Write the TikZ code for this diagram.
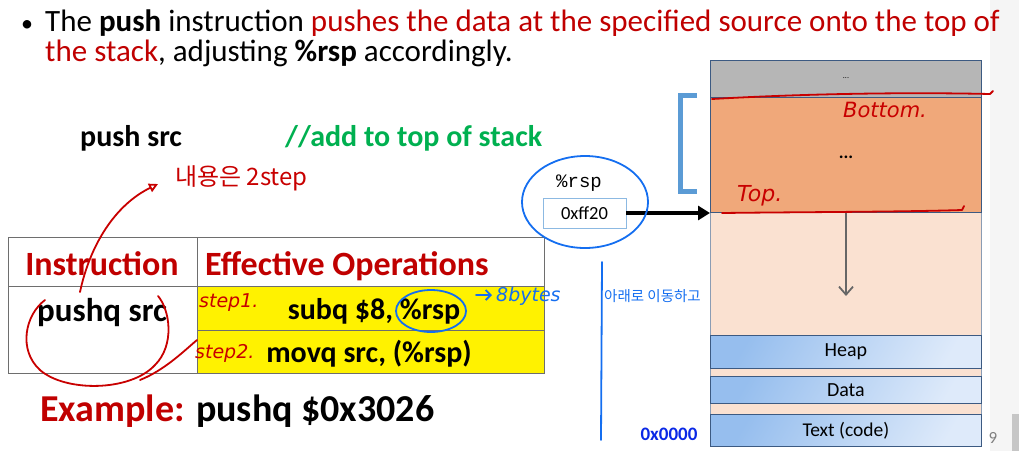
\documentclass[tikz,border=0pt]{standalone}
\usepackage{fontspec}
\setmainfont{Carlito}
\setmonofont{Liberation Mono}
\newfontfamily\kr{Noto Sans CJK KR}
\newfontfamily\hand{DejaVu Sans}
\usetikzlibrary{arrows.meta,shapes.geometric}
\definecolor{dred}{RGB}{192,0,0}
\definecolor{cgreen}{RGB}{0,176,80}
\definecolor{stackor}{RGB}{240,168,122}
\definecolor{peach}{RGB}{250,225,209}
\definecolor{topgray}{RGB}{182,182,182}
\definecolor{blueA}{RGB}{150,190,238}
\definecolor{blueB}{RGB}{222,234,250}
\definecolor{boxline}{RGB}{60,90,130}
\definecolor{penred}{RGB}{200,0,0}
\definecolor{penblue}{RGB}{20,110,240}
\definecolor{brblue}{RGB}{91,155,213}
\definecolor{addrblue}{RGB}{10,40,230}
\definecolor{tline}{RGB}{110,110,110}
\begin{document}
\begin{tikzpicture}[x=1pt,y=-1pt,
  txt/.style={inner sep=0pt},
  cellline/.style={draw=tline,line width=0.9pt},
  segbox/.style={draw=boxline,line width=0.8pt,shading=axis,left color=blueA,right color=blueB,shading angle=60},
  redpen/.style={draw=penred,line width=1.8pt,line cap=round,line join=round},
  bluepen/.style={draw=penblue,line width=1.8pt,line cap=round,line join=round},
  handred/.style={inner sep=0pt,text=penred,font=\hand\itshape\fontsize{19}{19}\selectfont},
  handblue/.style={inner sep=0pt,text=penblue,font=\hand\itshape\fontsize{19}{19}\selectfont}]
\useasboundingbox (0,0) rectangle (1019,451);
% right slide edge
\fill[gray!8] (990,0) rectangle (1019,451);
\fill[gray!45] (1012,414) rectangle (1019,451);

% bullet text
\node[txt,anchor=base] (bul) at (27,31) {\fontsize{24}{30}\selectfont •};
\node[txt,anchor=base west] (l1) at (45,31) {\fontsize{31}{34}\selectfont The \textbf{push} instruction \textcolor{dred}{pushes the data at the specified source onto the top of}};
\node[txt,anchor=base west] (l2) at (45,61) {\fontsize{31}{34}\selectfont \textcolor{dred}{the stack}, adjusting \textbf{\%rsp} accordingly.};

% push src line
\node[txt,anchor=base west] (ps) at (80,146) {\fontsize{30}{32}\selectfont\bfseries push src};
\node[txt,anchor=base west] (cm) at (285,146) {\fontsize{30}{32}\selectfont\bfseries\color{cgreen}//add to top of stack};

% table
\fill[yellow] (197,286) rectangle (544,373);
\draw[cellline] (8,237) rectangle (544,373);
\draw[cellline] (197,237) -- (197,373);
\draw[cellline] (8,286) -- (544,286);
\draw[cellline] (197,330) -- (544,330);
\node[txt,anchor=base] (hi) at (102,275) {\fontsize{34}{36}\selectfont\bfseries\color{dred}Instruction};
\node[txt,anchor=base west] (he) at (205,275) {\fontsize{34}{36}\selectfont\bfseries\color{dred}Effective Operations};
\node[txt,anchor=base] (pq) at (102,321) {\fontsize{33}{36}\selectfont\bfseries pushq src};
\node[txt,anchor=base] (op1) at (374,319) {\fontsize{30}{32}\selectfont\bfseries subq \$8, \%rsp};
\node[txt,anchor=base] (op2) at (369,362) {\fontsize{30}{32}\selectfont\bfseries movq src, (\%rsp)};

% example
\node[txt,anchor=base west] (ex) at (40,421) {\fontsize{38}{40}\selectfont\bfseries\textcolor{dred}{Example:} pushq \$0x3026};

% memory layout
\fill[peach] (710,212) rectangle (981,446);
\draw[boxline!60,line width=0.6pt] (710,212) -- (710,446) (981,212) -- (981,446);
\filldraw[fill=topgray,draw=boxline,line width=0.8pt] (710,60) rectangle (981,97);
\node[txt] (dots0) at (846,78) {\fontsize{8}{8}\selectfont ...};
\filldraw[fill=stackor,draw=boxline,line width=0.8pt] (710,97) rectangle (981,212);
\node[txt] (dots1) at (846,157) {\fontsize{18}{18}\selectfont\bfseries ...};
\coordinate (arrS) at (846,213);
\coordinate (arrE) at (846,296);
\draw[gray!80!black,line width=1.8pt,-{Straight Barb[length=8pt,width=14pt]}] (arrS) -- (arrE);
\node[segbox,minimum width=271pt,minimum height=33pt,anchor=north west,inner sep=0pt] (heap) at (710,335) {};
\node[txt] at (heap) {\fontsize{20}{20}\selectfont Heap};
\node[segbox,minimum width=271pt,minimum height=27pt,anchor=north west,inner sep=0pt] (data) at (710,376) {};
\node[txt] at (data) {\fontsize{20}{20}\selectfont Data};
\node[segbox,minimum width=271pt,minimum height=32pt,anchor=north west,inner sep=0pt] (text) at (710,414) {};
\node[txt] at (text) {\fontsize{19.5}{20}\selectfont Text (code)};
\node[txt,anchor=base] (addr) at (669,440) {\fontsize{19}{19}\selectfont\bfseries\color{addrblue}0x0000};
\node[txt,anchor=base] (pg) at (993,443) {\fontsize{17}{17}\selectfont\color{gray}9};

% rsp register
\node[txt,anchor=base] (rspl) at (579,187) {\fontsize{19}{19}\selectfont\ttfamily\%rsp};
\node[draw=brblue!70,line width=0.8pt,minimum width=83pt,minimum height=30pt,inner sep=0pt] (rspbox) at (584.5,213) {\fontsize{18.5}{18.5}\selectfont 0xff20};
\coordinate (stacktop) at (710,213);
\draw[line width=4pt,-{Triangle[length=12pt,width=14pt]}] (rspbox.east) -- (stacktop);

% blue bracket
\draw[brblue,line width=5pt] (697,95) -- (680,95) -- (680,191) -- (697,191);

% handwritten annotations (red)
\draw[redpen] (712,99) .. controls (800,94) and (900,92) .. (990,94) -- (993,91);
\node[handred,anchor=base west,font=\hand\itshape\fontsize{21}{21}\selectfont] (bot) at (843,117) {Bottom.};
\node[handred,anchor=base west,font=\hand\itshape\fontsize{22}{22}\selectfont] (topl) at (737,201) {Top.};
\draw[redpen] (722,213) .. controls (800,212) and (900,212) .. (962,210) -- (964,206);
\draw[redpen] (45,300) .. controls (25,315) and (18,350) .. (40,370)
  .. controls (65,392) and (130,392) .. (155,365)
  .. controls (175,345) and (170,310) .. (158,296);
\draw[redpen] (140,380) .. controls (165,370) and (185,350) .. (197,340);
\draw[redpen,-{Triangle[open,length=9pt,width=9pt]}] (80,292) .. controls (90,245) and (115,205) .. (158,184);
\node[handred,anchor=base west,font=\kr\fontsize{24}{24}\selectfont] (ann1) at (175,185) {내용은 2step};
\node[handred,anchor=base west] (s1) at (199,307) {step1.};
\node[handred,anchor=base west] (s2) at (195,358) {step2.};

% handwritten annotations (blue)
\draw[bluepen] (431,311) ellipse (35pt and 21pt);
\draw[bluepen] (585,202) ellipse (63pt and 46pt);
\draw[bluepen,-{Straight Barb[length=5pt]}] (476,295) -- (492,295);
\node[handblue,anchor=base west] (b8) at (496,301) {8bytes};
\draw[bluepen] (602,262) -- (601,440);
\node[handblue,anchor=base west,font=\kr\fontsize{14.5}{14.5}\selectfont] (mv) at (604,301) {아래로 이동하고};
\end{tikzpicture}
\end{document}
